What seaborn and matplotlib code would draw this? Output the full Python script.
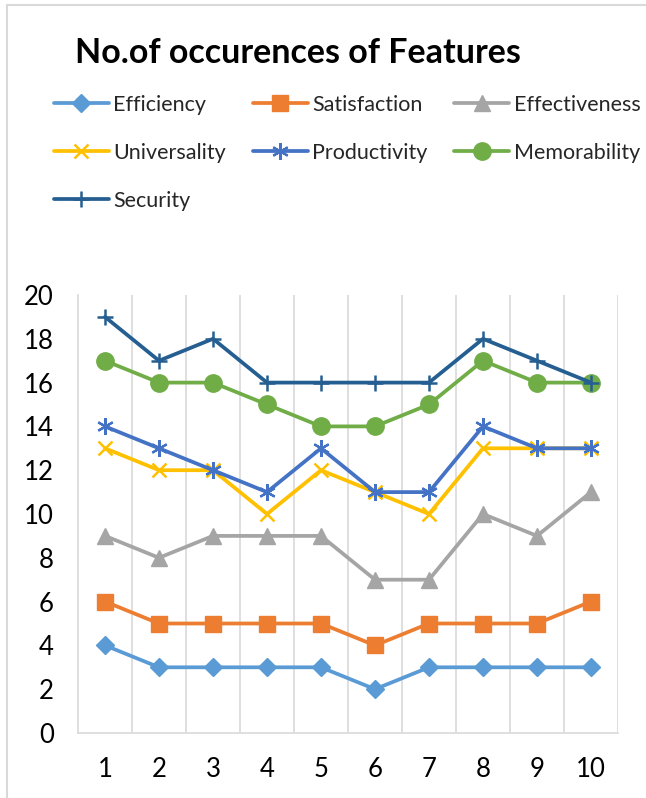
import matplotlib
matplotlib.use("Agg")
import matplotlib.pyplot as plt
from matplotlib.lines import Line2D
import seaborn as sns
import pandas as pd
import numpy as np

sns.set_theme(style="white")
plt.rcParams['font.family'] = ['Lato', 'DejaVu Sans']

x_values = [1, 2, 3, 4, 5, 6, 7, 8, 9, 10]
series_names = ["Efficiency", "Satisfaction", "Effectiveness", "Universality",
                "Productivity", "Memorability", "Security"]
efficiency = [4, 3, 3, 3, 3, 2, 3, 3, 3, 3]
satisfaction = [6, 5, 5, 5, 5, 4, 5, 5, 5, 6]
effectiveness = [9, 8, 9, 9, 9, 7, 7, 10, 9, 11]
universality = [13, 12, 12, 10, 12, 11, 10, 13, 13, 13]
productivity = [14, 13, 12, 11, 13, 11, 11, 14, 13, 13]
memorability = [17, 16, 16, 15, 14, 14, 15, 17, 16, 16]
security = [19, 17, 18, 16, 16, 16, 16, 18, 17, 16]
y_ticks = [0, 2, 4, 6, 8, 10, 12, 14, 16, 18, 20]

values = [efficiency, satisfaction, effectiveness, universality,
          productivity, memorability, security]
colors = ["#5B9BD5", "#ED7D31", "#A5A5A5", "#FFC000", "#4472C4", "#70AD47", "#255E91"]
markers = ["D", "s", "^", "x", (6, 2, 0), "o", "+"]
msizes = [9, 12, 12, 10.5, 12, 12.5, 12]
mews = [1, 1, 1, 1.8, 1.6, 1, 1.8]

df = pd.DataFrame({"x": np.tile(x_values, len(series_names)),
                   "value": np.concatenate(values),
                   "series": np.repeat(series_names, len(x_values))})

fig = plt.figure(figsize=(6.46, 7.98), dpi=100)
ax = fig.add_axes([78/646, 1-733/798, (618-78)/646, (733-295)/798])

handles = {}
for name, col, mk, ms, mew in zip(series_names, colors, markers, msizes, mews):
    sub = df[df["series"] == name]
    sns.lineplot(data=sub, x="x", y="value", ax=ax, color=col, linewidth=2.7,
                 marker=mk, markersize=ms, markeredgecolor=col, markerfacecolor=col,
                 markeredgewidth=mew, legend=False)
    handles[name] = Line2D([], [], color=col, linewidth=2.7, marker=mk,
                           markersize=ms, markeredgecolor=col, markerfacecolor=col,
                           markeredgewidth=mew)

ax.set_xlim(0.5, 10.5)
ax.set_ylim(0, 20)
ax.set_xticks(x_values)
ax.set_xticklabels([str(v) for v in x_values])
ax.set_yticks(y_ticks)
ax.set_yticklabels([str(v) for v in y_ticks])
ax.set_xticks(np.arange(1.5, 11, 1), minor=True)
ax.grid(False)
ax.grid(True, which="minor", axis="x", color="#D9D9D9", linewidth=1.2)
ax.tick_params(axis="both", which="both", length=0, labelsize=18.5, colors="#000000")
ax.tick_params(axis="y", pad=17.5)
ax.tick_params(axis="x", pad=17)
ax.set_xlabel("")
ax.set_ylabel("")
for s in ["top", "right"]:
    ax.spines[s].set_visible(False)
for s in ["left", "bottom"]:
    ax.spines[s].set_color("#D9D9D9")
    ax.spines[s].set_linewidth(1.2)

fig.text(75/646, 1-53/798, "No.of occurences of Features", fontsize=24.5,
         fontweight="bold", va="center", ha="left", color="#000000")

order = ["Efficiency", "Universality", "Security", "Satisfaction",
         "Productivity", "Effectiveness", "Memorability"]
fig.legend([handles[n] for n in order], order, loc="upper left",
           bbox_to_anchor=(54/646, 1-95/798), ncol=3, frameon=False,
           fontsize=15.5, handlelength=2.55, handletextpad=0.2, columnspacing=1.25,
           labelspacing=1.3, borderpad=0, borderaxespad=0)

fig.add_artist(Line2D([7/646, 7/646], [0, 1-5/798], transform=fig.transFigure,
                      color="#D9D9D9", linewidth=1.5))
fig.add_artist(Line2D([7/646, 1], [1-5/798, 1-5/798], transform=fig.transFigure,
                      color="#D9D9D9", linewidth=1.5))

fig.savefig("out.png", dpi=100)
